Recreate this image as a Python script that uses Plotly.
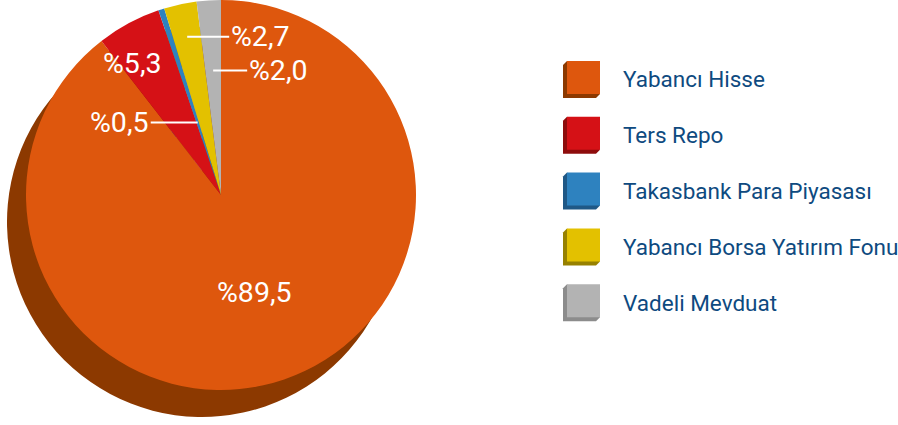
import math
import plotly.graph_objects as go

# Portfolio distribution (percent)
categories = [
    "Yabancı Hisse",
    "Ters Repo",
    "Takasbank Para Piyasası",
    "Yabancı Borsa Yatırım Fonu",
    "Vadeli Mevduat",
]
shares = [89.5, 5.3, 0.5, 2.7, 2.0]

face_colors = ["#DE570D", "#D51116", "#2E82BF", "#E3C100", "#B3B3B3"]
edge_colors = ["#8C3900", "#8E0C0C", "#1F5886", "#978100", "#8C8C8C"]

W, H = 898, 425
CX, CY, R = 221, 195, 195          # pie centre / radius in pixels
SHADOW_DX, SHADOW_DY = -19, 27      # extrusion offset of the pie body

FONT = "Roboto"
TEXT_BLUE = "#0E4A80"


def to_px(x):
    return x / W


def to_py(y):
    return 1 - y / H


def domain(cx, cy, r):
    return dict(x=[to_px(cx - r), to_px(cx + r)],
                y=[max(0, to_py(cy + r)), min(1, to_py(cy - r))])


fig = go.Figure()

# dark body of the pie, drawn underneath
fig.add_trace(go.Pie(
    labels=categories, values=shares, sort=False,
    direction="clockwise", rotation=0,
    marker=dict(colors=edge_colors, line=dict(width=0)),
    textinfo="none", hoverinfo="skip", showlegend=False,
    domain=domain(CX + SHADOW_DX, CY + SHADOW_DY, R),
))

# top face of the pie
fig.add_trace(go.Pie(
    labels=categories, values=shares, sort=False,
    direction="clockwise", rotation=0,
    marker=dict(colors=face_colors, line=dict(width=0)),
    textinfo="none", hoverinfo="label+percent", showlegend=False,
    domain=domain(CX, CY, R),
))

# value labels: (radius fraction of anchor, leader-line x offset, xshift, yshift)
label_layout = [
    (0.53, None, 0, 0),
    (0.82, None, -13, -9),
    (0.39, -78, 0, 0),
    (0.83, 73, 0, 0),
    (0.64, 65, 0, 0),
]

total = sum(shares)
cum = 0.0
annotations = []
for i, v in enumerate(shares):
    mid = (cum + v / 2) / total * 2 * math.pi
    cum += v
    frac, ax, xs, ys = label_layout[i]
    x = CX + frac * R * math.sin(mid)
    y = CY - frac * R * math.cos(mid)
    text = "%" + f"{v:.1f}".replace(".", ",")
    ann = dict(x=to_px(x), y=to_py(y), xref="paper", yref="paper",
               text=text, font=dict(family=FONT, size=28.5, color="white"),
               xshift=xs, yshift=ys)
    if ax is None:
        ann.update(showarrow=False, xanchor="center", yanchor="middle")
    else:
        ann.update(showarrow=True, arrowhead=0, arrowwidth=2,
                   arrowcolor="white", ax=ax, ay=0, standoff=0)
    annotations.append(ann)

# legend with bevelled swatches
shapes = []
BOX, BEVEL = 33, 4
for i, name in enumerate(categories):
    top = 61 + i * 55.8
    left = 567
    path = (f"M {to_px(left)},{to_py(top)} "
            f"L {to_px(left - BEVEL)},{to_py(top + BEVEL)} "
            f"L {to_px(left - BEVEL)},{to_py(top + BOX + BEVEL)} "
            f"L {to_px(left + BOX - BEVEL)},{to_py(top + BOX + BEVEL)} "
            f"L {to_px(left + BOX)},{to_py(top + BOX)} Z")
    shapes.append(dict(type="path", path=path, xref="paper", yref="paper",
                       fillcolor=edge_colors[i], line=dict(width=0)))
    shapes.append(dict(type="rect", xref="paper", yref="paper",
                       x0=to_px(left), x1=to_px(left + BOX),
                       y0=to_py(top + BOX), y1=to_py(top),
                       fillcolor=face_colors[i], line=dict(width=0)))
    annotations.append(dict(
        x=to_px(621), y=to_py(top + BOX / 2 + BEVEL / 2),
        xref="paper", yref="paper", xanchor="left", yanchor="middle",
        text=name, showarrow=False,
        font=dict(family=FONT, size=22.5, color=TEXT_BLUE),
    ))

fig.update_layout(
    width=W, height=H,
    margin=dict(l=0, r=0, t=0, b=0),
    paper_bgcolor="white", plot_bgcolor="white",
    annotations=annotations, shapes=shapes,
    showlegend=False,
)

fig.write_html("out.html")
